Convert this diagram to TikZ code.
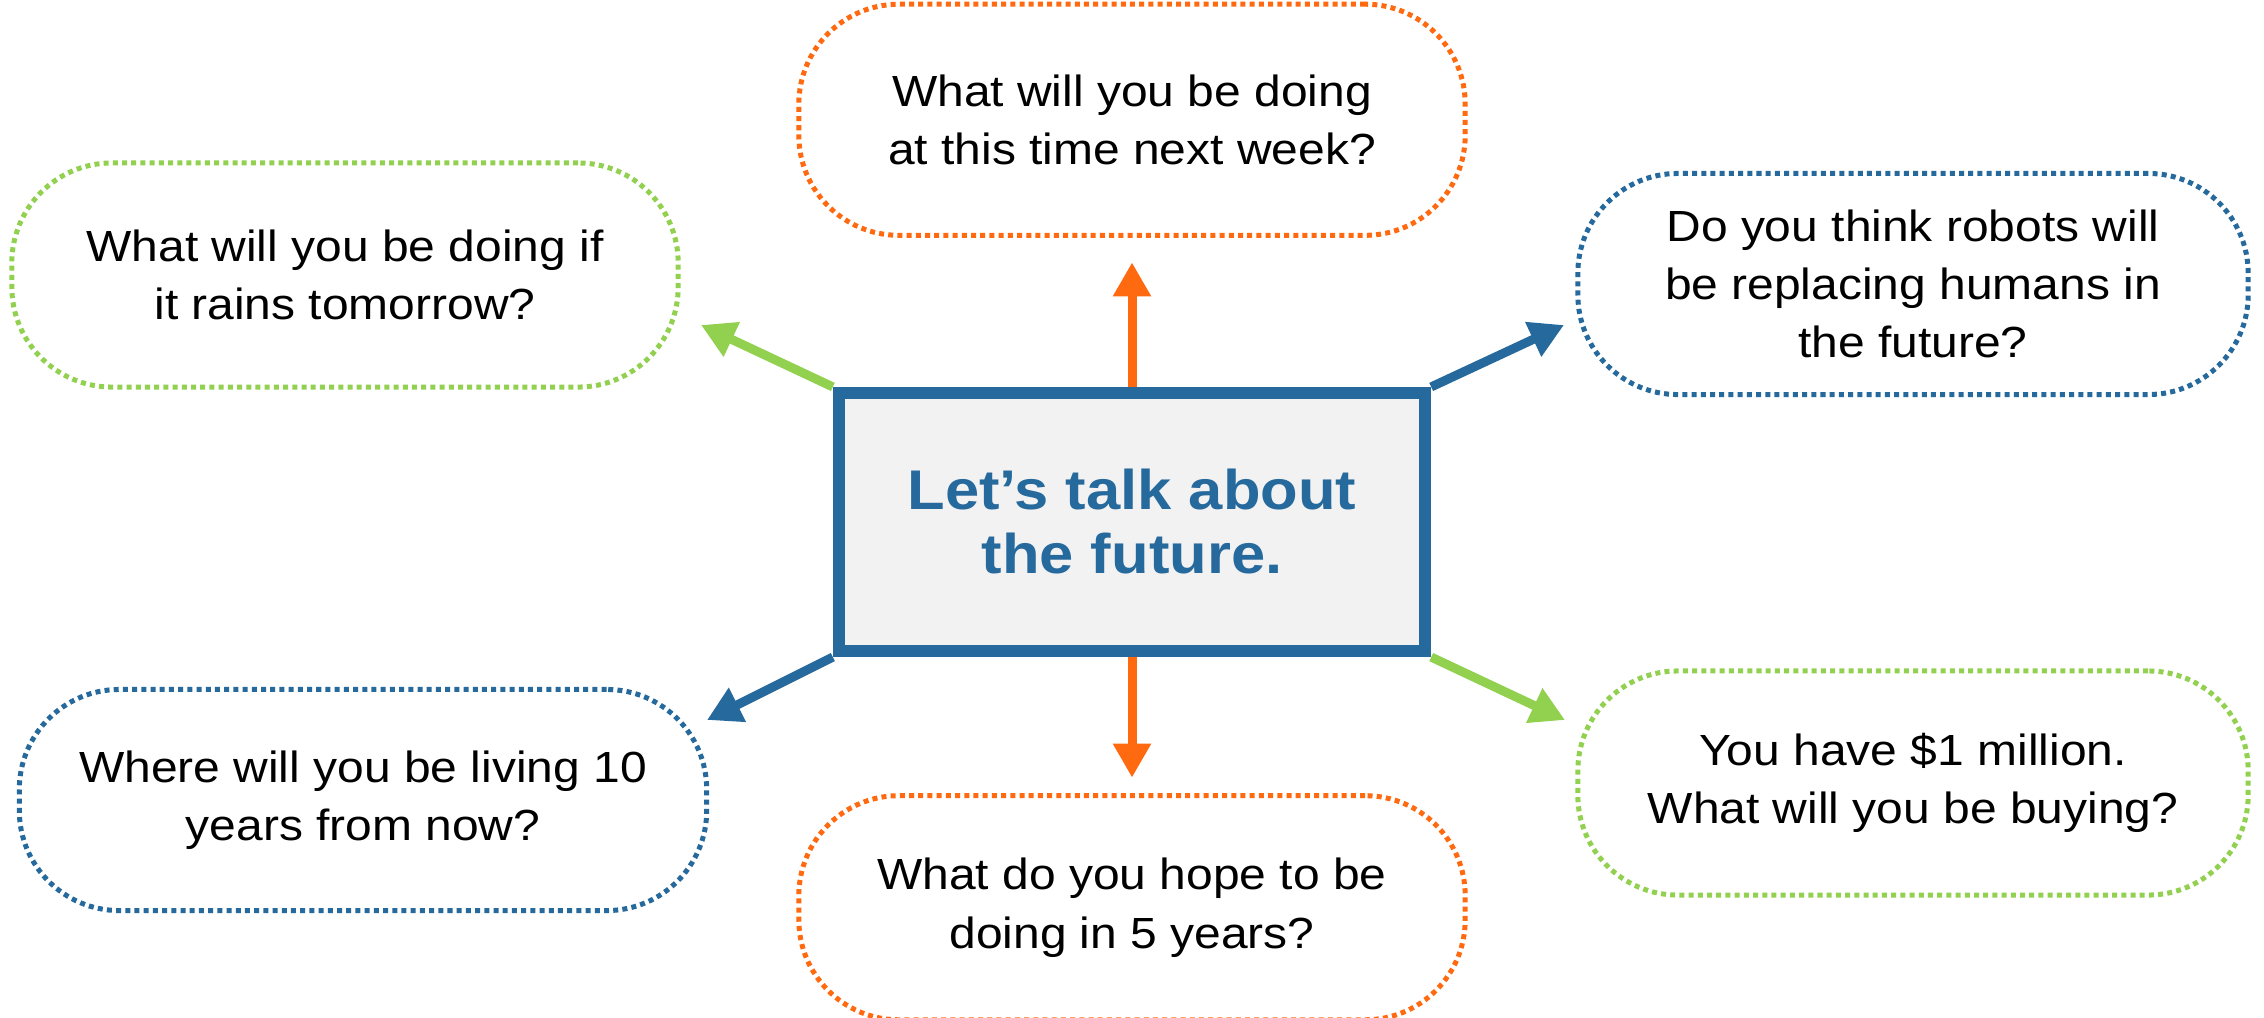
\documentclass[tikz,border=0pt]{standalone}
\usepackage{fontspec}
\setmainfont{Liberation Sans}[FakeStretch=1.1]
\usetikzlibrary{positioning, arrows.meta, backgrounds}
\definecolor{futureblue}{HTML}{26699C}
\definecolor{futureorange}{HTML}{FF6A10}
\definecolor{futuregreen}{HTML}{92D050}
\definecolor{boxgray}{HTML}{F2F2F2}
\tikzset{
  spoke/.style={-{Triangle[length=0.34cm, width=0.36cm]}, line width=0.09cm},
  topic/.style={draw=futureblue, fill=boxgray, line width=0.12cm, minimum width=5.86cm, minimum height=2.58cm,
    align=center, text=futureblue, font=\fontsize{15.9}{18.2}\selectfont\bfseries},
  question/.style={line width=0.05cm, dash pattern=on 0.05cm off 0.042cm, rounded corners=1cm,
    minimum width=6.66cm, minimum height=2.24cm, align=center, font=\fontsize{12.4}{16.5}\selectfont},
  x=0.01cm, y=0.01cm
}
\begin{document}
\begin{tikzpicture}
    \useasboundingbox (0,0) rectangle (2264,1017);
    \node[topic] (future) at (1132,495) {Let’s talk about\\the future.};
    \node[question, draw=futureorange, above=1.49cm of future, minimum height=2.31cm] (nextweek) {What will you be doing\\at this time next week?};
    \node[question, draw=futureorange, below=1.36cm of future] (fiveyears) {What do you hope to be\\doing in 5 years?};
    \node[question, draw=futuregreen] (rain) at (345,742) {What will you be doing if\\it rains tomorrow?};
    \node[question, draw=futureblue, minimum width=6.7cm, minimum height=2.21cm] (robots) at (1913,733) {Do you think robots will\\be replacing humans in\\the future?};
    \node[question, draw=futureblue, minimum width=6.87cm, minimum height=2.21cm] (living) at (363,217) {Where will you be living 10\\years from now?};
    \node[question, draw=futuregreen, minimum width=6.7cm] (million) at (1913,234) {You have \$1 million.\\What will you be buying?};
    % arrow tips
    \coordinate (raintip) at (701,692);
    \coordinate (robotstip) at (1564,692);
    \coordinate (livingtip) at (707,297);
    \coordinate (milliontip) at (1565,297);
    \begin{scope}[on background layer]
      \draw[spoke, futureorange, shorten >=0.245cm] (future.north) -- (nextweek.south);
      \draw[spoke, futureorange, shorten >=0.155cm] (future.south) -- (fiveyears.north);
      \draw[spoke, futuregreen] (future.north west) -- (raintip);
      \draw[spoke, futureblue] (future.north east) -- (robotstip);
      \draw[spoke, futureblue] (future.south west) -- (livingtip);
      \draw[spoke, futuregreen] (future.south east) -- (milliontip);
    \end{scope}
\end{tikzpicture}
\end{document}
